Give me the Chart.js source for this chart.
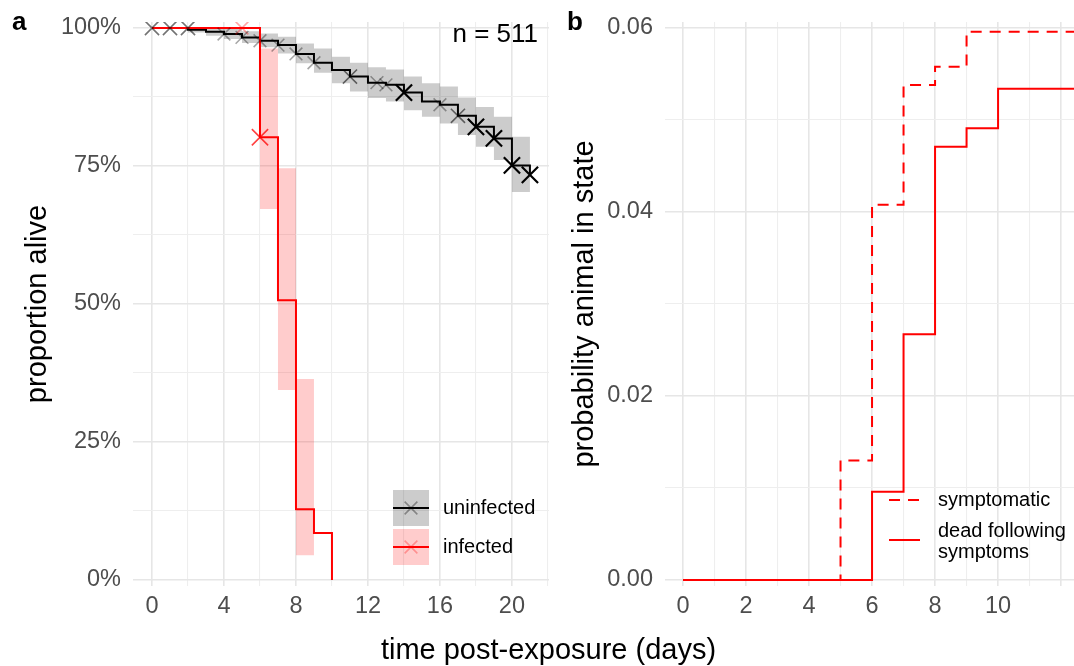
<!DOCTYPE html>
<html>
<head>
<meta charset="utf-8">
<script src="https://cdn.jsdelivr.net/npm/chart.js@4/dist/chart.umd.min.js"></script>
<style>
  body { margin: 0; background: #fff; }
  #wrap { position: relative; width: 1074px; height: 666px; font-family: "Liberation Sans", Arial, sans-serif; }
  #cA { position: absolute; left: 0; top: 0; }
  #cB { position: absolute; left: 555px; top: 0; }
  .tag { position: absolute; font-weight: bold; font-size: 26px; line-height: 26px; color: #000; }
  #xtitle { position: absolute; left: 0; width: 1097px; top: 632px; line-height: 34px; text-align: center; font-size: 29px; color: #000; }
</style>
</head>
<body>
<div id="wrap">
  <canvas id="cA" width="555" height="666"></canvas>
  <canvas id="cB" width="519" height="666"></canvas>
  <div class="tag" style="left:12px; top:8px;">a</div>
  <div class="tag" style="left:567px; top:8px;">b</div>
  <div id="xtitle">time post-exposure (days)</div>
</div>
<script>
/*
  Figure a : survie (Kaplan-Meier) non infectés / infectés
  Figure b : probabilité d'être dans l'état (symptomatique, mort après symptômes)
*/

// ---- panneau a : courbe des non infectés ----
var uninfDays = [0, 2, 3, 4, 5, 6, 7, 8, 9, 10, 11, 12, 13, 14, 15, 16, 17, 18, 19, 20, 21];
var uninfSurv = [100, 99.7, 99.3, 98.9, 98.3, 97.7, 96.9, 95.3, 93.7, 92.4, 91.2, 90.1, 89.7, 88.3, 86.7, 86.1, 84.1, 82.1, 80.0, 75.1, 73.4];
var uninfLow = [100, 99.2, 98.6, 98.0, 97.3, 96.5, 95.4, 93.6, 91.9, 90.0, 88.5, 87.3, 86.7, 85.1, 83.9, 82.7, 80.6, 78.5, 76.1, 70.3, 68.0];
var uninfHigh = [100, 100, 100, 99.8, 99.4, 99.0, 98.4, 97.2, 96.3, 94.8, 93.7, 92.9, 92.5, 91.2, 90.0, 89.4, 87.4, 85.7, 83.9, 80.3, 79.0];

// censures (non infectés) : jour, survie, nombre approx. (d'après l'intensité des croix)
var uninfCensDays = [0, 1, 2, 4, 5, 6, 7, 8, 9, 11, 12.5, 13, 14, 16, 17, 18, 19, 20, 21];
var uninfCensSurv = [100, 100, 100, 98.9, 98.3, 97.7, 96.9, 95.3, 93.7, 91.2, 90.1, 89.7, 88.3, 86.1, 84.1, 82.1, 80.0, 75.1, 73.4];
var uninfCensN = [2, 2, 2, 1, 1, 1, 1, 1, 1, 2, 1, 1, 4, 1, 2, 4, 4, 4, 4];

// ---- panneau a : courbe des infectés ----
var infDays = [0, 6, 7, 8, 9, 10];
var infSurv = [100, 80.2, 50.7, 12.8, 8.5, 0];
var infCiDays = [6, 7, 8, 9];
var infLow = [67.2, 34.4, 4.5, 4.5];
var infHigh = [96.3, 74.6, 36.4, 36.4];
var infCensDays = [5, 6];
var infCensSurv = [100, 80.2];
var infCensN = [1, 3];

// ---- panneau b ----
var bDays = [0, 5, 6, 7, 8, 9, 10, 12.41];
var symptomatic = [0, 0.0130, 0.0408, 0.0538, 0.0558, 0.0596, 0.0596, 0.0596];
var deadAfterSymptoms = [0, 0, 0.0096, 0.0267, 0.0471, 0.0491, 0.0534, 0.0534];

// ticks
var xTicksA = [0, 2, 4, 6, 8, 10, 12, 14, 16, 18, 20, 22];
var yTicksA = [0, 12.5, 25, 37.5, 50, 62.5, 75, 87.5, 100];
var xTicksB = [0, 1, 2, 3, 4, 5, 6, 7, 8, 9, 10, 11, 12];
var yTicksB = [0, 0.01, 0.02, 0.03, 0.04, 0.05, 0.06];

Chart.defaults.font.family = '"Liberation Sans", Arial, sans-serif';

function pts(xs, ys) {
    return xs.map(function (x, i) { return { x: x, y: ys[i] }; });
}

// taille / transparence des croix selon le nombre censuré
function censAlpha(n) { return [0, 0.35, 0.55, 0.75, 1][n]; }
function censRadius(n) { return [0, 9, 10, 11.5, 11.5][n]; }
function censWidth(n) { return n >= 4 ? 2.2 : 1.6; }

function drawX(ctx, x, y, r, color, w) {
    var d = r * Math.SQRT1_2;
    ctx.strokeStyle = color;
    ctx.lineWidth = w;
    ctx.beginPath();
    ctx.moveTo(x - d, y - d); ctx.lineTo(x + d, y + d);
    ctx.moveTo(x - d, y + d); ctx.lineTo(x + d, y - d);
    ctx.stroke();
}

var gridMajor = '#e6e6e6';
var gridMinor = '#eeeeee';
var tickFont = { size: 23.5 };
var tickColor = '#4d4d4d';

// légende + annotation du panneau a
var legendA = {
    id: 'legendA',
    afterDraw: function (chart) {
        var ctx = chart.ctx;
        ctx.save();
        // n = 511
        ctx.fillStyle = '#000';
        ctx.font = '26px "Liberation Sans", Arial, sans-serif';
        ctx.textAlign = 'right';
        ctx.textBaseline = 'middle';
        ctx.fillText('n = 511', 538, 35);

        var items = [
            { label: 'uninfected', fill: 'rgba(0,0,0,0.2)', line: '#000', cross: 'rgba(0,0,0,0.35)', y: 490 },
            { label: 'infected', fill: 'rgba(255,0,0,0.2)', line: '#ff0000', cross: 'rgba(255,0,0,0.3)', y: 529 }
        ];
        items.forEach(function (it) {
            ctx.fillStyle = it.fill;
            ctx.fillRect(393, it.y, 36, 36);
            ctx.strokeStyle = it.line;
            ctx.lineWidth = 2;
            ctx.beginPath();
            ctx.moveTo(393, it.y + 18); ctx.lineTo(429, it.y + 18);
            ctx.stroke();
            drawX(ctx, 411, it.y + 18, 9, it.cross, 1.6);
            ctx.fillStyle = '#000';
            ctx.font = '20px "Liberation Sans", Arial, sans-serif';
            ctx.textAlign = 'left';
            ctx.fillText(it.label, 443, it.y + 18);
        });
        ctx.restore();
    }
};

// légende du panneau b
var legendB = {
    id: 'legendB',
    afterDraw: function (chart) {
        var ctx = chart.ctx;
        ctx.save();
        ctx.strokeStyle = '#ff0000';
        ctx.lineWidth = 2;
        ctx.setLineDash([11, 8]);
        ctx.beginPath();
        ctx.moveTo(334, 500); ctx.lineTo(365, 500);
        ctx.stroke();
        ctx.setLineDash([]);
        ctx.beginPath();
        ctx.moveTo(334, 540); ctx.lineTo(365, 540);
        ctx.stroke();
        ctx.fillStyle = '#000';
        ctx.font = '20px "Liberation Sans", Arial, sans-serif';
        ctx.textAlign = 'left';
        ctx.textBaseline = 'middle';
        ctx.fillText('symptomatic', 383, 500);
        ctx.fillText('dead following', 383, 531);
        ctx.fillText('symptoms', 383, 552);
        ctx.restore();
    }
};

function noPad(scale) {
    scale.paddingTop = 0; scale.paddingBottom = 0;
    scale.paddingLeft = 0; scale.paddingRight = 0;
}

// ---------------- graphique a ----------------
var chartA = new Chart(document.getElementById('cA').getContext('2d'), {
    type: 'line',
    data: {
        datasets: [
            { data: pts(uninfDays, uninfHigh), borderColor: 'transparent', pointRadius: 0, stepped: true, fill: false, order: 4 },
            { data: pts(uninfDays, uninfLow), borderColor: 'transparent', pointRadius: 0, stepped: true, fill: '-1', backgroundColor: 'rgba(0,0,0,0.2)', order: 4 },
            { data: pts(infCiDays, infHigh), borderColor: 'transparent', pointRadius: 0, stepped: true, fill: false, order: 4 },
            { data: pts(infCiDays, infLow), borderColor: 'transparent', pointRadius: 0, stepped: true, fill: '-1', backgroundColor: 'rgba(255,0,0,0.2)', order: 4 },
            { label: 'uninfected', data: pts(uninfDays, uninfSurv), borderColor: '#000', borderWidth: 2, pointRadius: 0, stepped: true, fill: false, order: 3 },
            { label: 'infected', data: pts(infDays, infSurv), borderColor: '#ff0000', borderWidth: 2, pointRadius: 0, stepped: true, fill: false, order: 2 },
            {
                data: pts(uninfCensDays, uninfCensSurv), showLine: false, pointStyle: 'crossRot', order: 1,
                pointRadius: uninfCensN.map(censRadius),
                pointBorderWidth: uninfCensN.map(censWidth),
                pointBorderColor: uninfCensN.map(function (n) { return 'rgba(0,0,0,' + censAlpha(n) + ')'; })
            },
            {
                data: pts(infCensDays, infCensSurv), showLine: false, pointStyle: 'crossRot', order: 1,
                pointRadius: infCensN.map(censRadius),
                pointBorderWidth: infCensN.map(censWidth),
                pointBorderColor: infCensN.map(function (n) { return 'rgba(255,0,0,' + censAlpha(n) + ')'; })
            }
        ]
    },
    options: {
        responsive: false,
        animation: false,
        events: [],
        layout: { autoPadding: false, padding: { top: 22, right: 6, left: 0, bottom: 0 } },
        plugins: { legend: { display: false }, tooltip: { enabled: false } },
        scales: {
            x: {
                type: 'linear', min: -1.056, max: 22.06,
                afterBuildTicks: function (s) { s.ticks = xTicksA.map(function (v) { return { value: v }; }); },
                afterFit: function (s) { s.height = 80; noPad(s); },
                ticks: {
                    font: tickFont, color: tickColor, padding: 6, maxRotation: 0, autoSkip: false,
                    callback: function (v) { return (v % 4 === 0 && v <= 20) ? v : ''; }
                },
                grid: {
                    drawTicks: false,
                    color: function (c) { return c.tick && c.tick.value % 4 === 0 ? gridMajor : gridMinor; },
                    lineWidth: function (c) { return c.tick && c.tick.value % 4 === 0 ? 1.6 : 1.1; }
                },
                border: { display: false }
            },
            y: {
                type: 'linear', min: -1.087, max: 101.087,
                afterBuildTicks: function (s) { s.ticks = yTicksA.map(function (v) { return { value: v }; }); },
                afterFit: function (s) { s.width = 133; noPad(s); },
                ticks: {
                    font: tickFont, color: tickColor, padding: 12, autoSkip: false,
                    callback: function (v) { return v % 25 === 0 ? v + '%' : ''; }
                },
                grid: {
                    drawTicks: false,
                    color: function (c) { return c.tick && c.tick.value % 25 === 0 ? gridMajor : gridMinor; },
                    lineWidth: function (c) { return c.tick && c.tick.value % 25 === 0 ? 1.6 : 1.1; }
                },
                border: { display: false },
                title: { display: true, text: 'proportion alive', color: '#000', font: { size: 29 }, padding: { top: 21, bottom: 0 } }
            }
        }
    },
    plugins: [legendA]
});

// ---------------- graphique b ----------------
var chartB = new Chart(document.getElementById('cB').getContext('2d'), {
    type: 'line',
    data: {
        datasets: [
            { label: 'symptomatic', data: pts(bDays, symptomatic), borderColor: '#ff0000', borderWidth: 2, borderDash: [11, 8], pointRadius: 0, stepped: true, fill: false, order: 2 },
            { label: 'dead following symptoms', data: pts(bDays, deadAfterSymptoms), borderColor: '#ff0000', borderWidth: 2, pointRadius: 0, stepped: true, fill: false, order: 1 }
        ]
    },
    options: {
        responsive: false,
        animation: false,
        events: [],
        layout: { autoPadding: false, padding: { top: 22, right: 0, left: 0, bottom: 0 } },
        plugins: { legend: { display: false }, tooltip: { enabled: false } },
        scales: {
            x: {
                type: 'linear', min: -0.571, max: 12.41,
                afterBuildTicks: function (s) { s.ticks = xTicksB.map(function (v) { return { value: v }; }); },
                afterFit: function (s) { s.height = 80; noPad(s); },
                ticks: {
                    font: tickFont, color: tickColor, padding: 6, maxRotation: 0, autoSkip: false,
                    callback: function (v) { return (v % 2 === 0 && v <= 10) ? v : ''; }
                },
                grid: {
                    drawTicks: false,
                    color: function (c) { return c.tick && c.tick.value % 2 === 0 ? gridMajor : gridMinor; },
                    lineWidth: function (c) { return c.tick && c.tick.value % 2 === 0 ? 1.6 : 1.1; }
                },
                border: { display: false }
            },
            y: {
                type: 'linear', min: -0.000652, max: 0.060652,
                afterBuildTicks: function (s) { s.ticks = yTicksB.map(function (v) { return { value: v }; }); },
                afterFit: function (s) { s.width = 110; noPad(s); },
                ticks: {
                    font: tickFont, color: tickColor, padding: 12, autoSkip: false,
                    callback: function (v) { return Math.round(v * 100) % 2 === 0 ? v.toFixed(2) : ''; }
                },
                grid: {
                    drawTicks: false,
                    color: function (c) { return c.tick && Math.round(c.tick.value * 100) % 2 === 0 ? gridMajor : gridMinor; },
                    lineWidth: function (c) { return c.tick && Math.round(c.tick.value * 100) % 2 === 0 ? 1.6 : 1.1; }
                },
                border: { display: false },
                title: { display: true, text: 'probability animal in state', color: '#000', font: { size: 29 }, padding: { top: 13, bottom: 0 } }
            }
        }
    },
    plugins: [legendB]
});
</script>
</body>
</html>
